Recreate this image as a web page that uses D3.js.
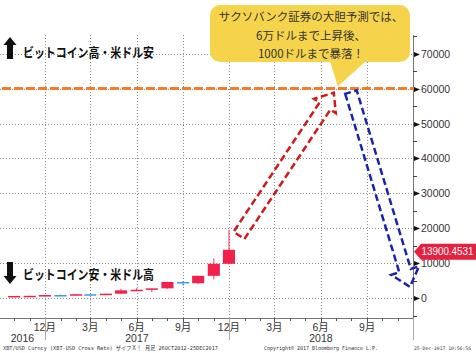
<!DOCTYPE html>
<html>
<head>
<meta charset="utf-8">
<script src="https://cdn.jsdelivr.net/npm/d3@7"></script>
<style>
  body { margin: 0; background: #fff; }
  svg { display: block; }
</style>
</head>
<body>
<div id="chart"></div>
<script>
// monthly candles (XBT/USD), month start
const months = ["2016-10-01","2016-11-01","2016-12-01","2017-01-01","2017-02-01","2017-03-01","2017-04-01",
    "2017-05-01","2017-06-01","2017-07-01","2017-08-01","2017-09-01","2017-10-01","2017-11-01","2017-12-01"];
const opens  = [610, 700, 745, 965, 965, 1190, 1080, 1350, 2300, 2480, 2875, 4700, 4340, 6450, 9900];
const highs  = [720, 750, 980, 1150, 1200, 1290, 1350, 2750, 3000, 2900, 4750, 4980, 6450, 11400, 19600];
const lows   = [600, 690, 745, 760, 920, 900, 1060, 1350, 2150, 1830, 2700, 3650, 4100, 5500, 9700];
const closes = [700, 745, 965, 960, 1190, 1080, 1350, 2300, 2480, 2875, 4700, 4340, 6450, 9900, 13900];

const yTicks = [0, 10000, 20000, 30000, 40000, 50000, 60000, 70000];
const lastPrice = 13900.4531;
const targetLevel = 60000;

// forecast arrows: [date, value] from -> to
const upArrow = [["2017-12-21", 18000], ["2018-06-27", 58800]];
const downArrow = [["2018-07-31", 59000], ["2018-11-25", 3300]];

const calloutLines = ["サクソバンク証券の大胆予測では、", "6万ドルまで上昇後、", "1000ドルまで暴落！"];

class CandleChart {
    constructor(parentElement) {
        this.parentElement = parentElement;
        this.initVis();
    }

    initVis() {
        let vis = this;
        vis.width = 476;
        vis.height = 353;
        vis.plotRight = 413;
        vis.plotTop = 35;
        vis.plotBottom = 318;

        vis.svg = d3.select("#" + vis.parentElement).append("svg")
            .attr("width", vis.width)
            .attr("height", vis.height);

        vis.svg.append("rect").attr("width", vis.width).attr("height", vis.height).attr("fill", "#fff");

        vis.parse = d3.timeParse("%Y-%m-%d");

        vis.x = d3.scaleTime()
            .domain([vis.parse("2016-09-03"), vis.parse("2018-12-01")])
            .range([0, vis.plotRight]);

        vis.y = d3.scaleLinear()
            .domain([-5600, 75300])
            .range([vis.plotBottom, vis.plotTop]);

        vis.data = months.map((m, i) => ({
            date: vis.parse(m), open: opens[i], high: highs[i], low: lows[i], close: closes[i]
        }));

        vis.drawGrid();
        vis.drawAxes();
        vis.drawCandles();
        vis.drawAnnotations();
    }

    drawGrid() {
        let vis = this;
        let quarters = d3.timeMonth.range(vis.x.domain()[0], vis.x.domain()[1])
            .filter(d => d.getMonth() % 3 === 2);
        vis.quarters = quarters;

        vis.svg.append("g").selectAll("line")
            .data(quarters)
            .enter().append("line")
            .attr("x1", d => Math.round(vis.x(d)) + 0.5)
            .attr("x2", d => Math.round(vis.x(d)) + 0.5)
            .attr("y1", vis.plotTop)
            .attr("y2", vis.plotBottom)
            .attr("stroke", "#8a8a8a")
            .attr("stroke-dasharray", "1,2");

        vis.svg.append("g").selectAll("line")
            .data(yTicks)
            .enter().append("line")
            .attr("x1", 0)
            .attr("x2", vis.plotRight)
            .attr("y1", d => Math.round(vis.y(d)) + 0.5)
            .attr("y2", d => Math.round(vis.y(d)) + 0.5)
            .attr("stroke", "#8a8a8a")
            .attr("stroke-dasharray", "1,2");
    }

    drawAxes() {
        let vis = this;
        let axisColor = "#777";

        // right value axis
        vis.svg.append("line")
            .attr("x1", vis.plotRight + 0.5).attr("x2", vis.plotRight + 0.5)
            .attr("y1", vis.plotTop).attr("y2", vis.plotBottom)
            .attr("stroke", axisColor);

        let minor = d3.range(-5000, 75001, 5000).filter(d => d % 10000 !== 0);
        vis.svg.append("g").selectAll("line")
            .data(minor)
            .enter().append("line")
            .attr("x1", vis.plotRight).attr("x2", vis.plotRight + 4)
            .attr("y1", d => Math.round(vis.y(d)) + 0.5)
            .attr("y2", d => Math.round(vis.y(d)) + 0.5)
            .attr("stroke", "#444");

        let major = vis.svg.append("g").selectAll("g")
            .data(yTicks)
            .enter().append("g")
            .attr("transform", d => `translate(${vis.plotRight}, ${Math.round(vis.y(d)) + 0.5})`);

        major.append("path")
            .attr("d", "M1,-2.5 L7,0 L1,2.5 Z")
            .attr("fill", "#111");

        major.append("text")
            .attr("x", 8)
            .attr("y", 3.6)
            .attr("font-family", "Liberation Sans, Arial, sans-serif")
            .attr("font-size", "10.5px")
            .attr("fill", "#333")
            .text(d => d);

        // bottom time axis
        vis.svg.append("line")
            .attr("x1", 0).attr("x2", vis.plotRight + 1)
            .attr("y1", vis.plotBottom + 0.5).attr("y2", vis.plotBottom + 0.5)
            .attr("stroke", axisColor);

        let allMonths = d3.timeMonth.range(vis.x.domain()[0], vis.x.domain()[1]);
        vis.svg.append("g").selectAll("line")
            .data(allMonths)
            .enter().append("line")
            .attr("x1", d => Math.round(vis.x(d)) + 0.5)
            .attr("x2", d => Math.round(vis.x(d)) + 0.5)
            .attr("y1", vis.plotBottom)
            .attr("y2", d => vis.plotBottom + (d.getMonth() % 3 === 2 ? 4 : 3))
            .attr("stroke", "#555");

        vis.svg.append("g").selectAll("text")
            .data(vis.quarters)
            .enter().append("text")
            .attr("x", d => vis.x(d))
            .attr("y", vis.plotBottom + 13)
            .attr("text-anchor", "middle")
            .attr("font-family", "Liberation Sans, Noto Sans CJK JP, sans-serif")
            .attr("font-size", "10.5px")
            .attr("fill", "#333")
            .text(d => (d.getMonth() + 1) + "月");

        // year separators and labels
        let yearStarts = [vis.x.domain()[0], vis.parse("2016-12-01"), vis.parse("2017-12-01"), vis.x.domain()[1]];
        vis.svg.append("g").selectAll("line")
            .data(yearStarts.slice(1))
            .enter().append("line")
            .attr("x1", d => Math.round(vis.x(d)) + 0.5)
            .attr("x2", d => Math.round(vis.x(d)) + 0.5)
            .attr("y1", vis.plotBottom)
            .attr("y2", vis.plotBottom + 22)
            .attr("stroke", "#aaa");

        let years = ["2016", "2017", "2018"];
        vis.svg.append("g").selectAll("text")
            .data(years)
            .enter().append("text")
            .attr("x", (d, i) => (vis.x(yearStarts[i]) + vis.x(yearStarts[i + 1])) / 2)
            .attr("y", vis.plotBottom + 24)
            .attr("text-anchor", "middle")
            .attr("font-family", "Liberation Sans, Arial, sans-serif")
            .attr("font-size", "10.5px")
            .attr("fill", "#333")
            .text(d => d);
    }

    drawCandles() {
        let vis = this;
        let up = "#f2204a", down = "#3d9ae8";
        let halfW = d => (vis.x(d3.timeDay.offset(d.date, 12)) - vis.x(d3.timeDay.offset(d.date, -12))) / 2;

        let candles = vis.svg.append("g").selectAll("g")
            .data(vis.data)
            .enter().append("g")
            .attr("class", "candle");

        candles.append("line")
            .attr("x1", d => vis.x(d.date))
            .attr("x2", d => vis.x(d.date))
            .attr("y1", d => vis.y(d.high))
            .attr("y2", d => vis.y(d.low))
            .attr("stroke", d => d.close >= d.open ? up : down)
            .attr("stroke-opacity", 0.7)
            .attr("stroke-width", 1.3);

        candles.append("rect")
            .attr("x", d => vis.x(d.date) - halfW(d))
            .attr("width", d => 2 * halfW(d))
            .attr("y", d => vis.y(Math.max(d.open, d.close)))
            .attr("height", d => Math.max(1.5, Math.abs(vis.y(d.open) - vis.y(d.close))))
            .attr("fill", d => d.close >= d.open ? up : down);
    }

    blockArrow(s, t, w, hw, hl) {
        let dx = t[0] - s[0], dy = t[1] - s[1];
        let len = Math.hypot(dx, dy);
        let ux = dx / len, uy = dy / len;
        let nx = -uy, ny = ux;
        let bx = t[0] - ux * hl, by = t[1] - uy * hl;
        let pts = [
            [s[0] + nx * w, s[1] + ny * w],
            [bx + nx * w, by + ny * w],
            [bx + nx * hw, by + ny * hw],
            t,
            [bx - nx * hw, by - ny * hw],
            [bx - nx * w, by - ny * w],
            [s[0] - nx * w, s[1] - ny * w]
        ];
        return "M" + pts.map(p => p[0].toFixed(1) + "," + p[1].toFixed(1)).join("L") + "Z";
    }

    drawAnnotations() {
        let vis = this;
        let jp = "Noto Sans CJK JP, sans-serif";

        // 60000 target line
        vis.svg.append("line")
            .attr("x1", 2).attr("x2", vis.plotRight + 1)
            .attr("y1", vis.y(targetLevel)).attr("y2", vis.y(targetLevel))
            .attr("stroke", "#f07d2c")
            .attr("stroke-width", 3)
            .attr("stroke-dasharray", "9,3");

        // forecast arrows
        let toPx = p => [vis.x(vis.parse(p[0])), vis.y(p[1])];
        vis.svg.append("path")
            .attr("d", vis.blockArrow(toPx(upArrow[0]), toPx(upArrow[1]), 6.5, 13, 16))
            .attr("fill", "none")
            .attr("stroke", "#cc1c1c")
            .attr("stroke-width", 2.5)
            .attr("stroke-dasharray", "7,3.5");

        vis.svg.append("path")
            .attr("d", vis.blockArrow(toPx(downArrow[0]), toPx(downArrow[1]), 6, 14.5, 17))
            .attr("fill", "none")
            .attr("stroke", "#1a24a8")
            .attr("stroke-width", 2.5)
            .attr("stroke-dasharray", "7,3.5");

        // last price tag
        let ty = vis.y(lastPrice) + 2;
        let tag = vis.svg.append("g").attr("transform", `translate(${vis.plotRight + 1}, ${ty})`);
        tag.append("path")
            .attr("d", "M0,0 L7,-8 L62,-8 L62,8 L7,8 Z")
            .attr("fill", "#e8203f");
        tag.append("text")
            .attr("x", 7.5)
            .attr("y", 3.6)
            .attr("font-family", "Liberation Sans, Arial, sans-serif")
            .attr("font-size", "10px")
            .attr("textLength", 52)
            .attr("lengthAdjust", "spacingAndGlyphs")
            .attr("fill", "#fff")
            .text(lastPrice.toFixed(4));

        // callout bubble
        let bubble = vis.svg.append("g");
        bubble.append("rect")
            .attr("x", 210).attr("y", 5)
            .attr("width", 200).attr("height", 57)
            .attr("rx", 10)
            .attr("fill", "#f5d44c");
        bubble.append("path")
            .attr("d", `M330,61 L${vis.x(vis.parse("2018-07-05"))},${vis.y(targetLevel) - 2} L366,61 Z`)
            .attr("fill", "#f5d44c");
        bubble.selectAll("text")
            .data(calloutLines)
            .enter().append("text")
            .attr("x", 311)
            .attr("y", (d, i) => 21 + i * 18.5)
            .attr("text-anchor", "middle")
            .attr("font-family", jp)
            .attr("font-size", "11.5px")
            .attr("fill", "#333")
            .text(d => d);

        // direction labels with black arrows
        let labels = [
            {text: "ビットコイン高・米ドル安", y: 57, dir: -1, ay: 48},
            {text: "ビットコイン安・米ドル高", y: 279, dir: 1, ay: 273}
        ];
        labels.forEach(l => {
            let tip = l.ay + l.dir * 11;
            let base = l.ay + l.dir * 3;
            let tail = l.ay - l.dir * 11;
            vis.svg.append("path")
                .attr("d", `M10,${tip} L16.5,${base} L13,${base} L13,${tail} L7,${tail} L7,${base} L3.5,${base} Z`)
                .attr("fill", "#111");
            vis.svg.append("text")
                .attr("x", 23)
                .attr("y", l.y)
                .attr("font-family", jp)
                .attr("font-size", "13px")
                .attr("font-weight", "bold")
                .attr("textLength", 131)
                .attr("lengthAdjust", "spacingAndGlyphs")
                .attr("fill", "#111")
                .text(l.text);
        });

        // source footer
        let foot = [
            {x: 3, len: 215, size: 5.5, text: "XBT/USD Curncy (XBT-USD Cross Rate) ザイフＸ！  月足 26OCT2012-25DEC2017"},
            {x: 264, len: 114, size: 5.5, text: "Copyright© 2017 Bloomberg Finance L.P."},
            {x: 414, len: 57, size: 4.8, text: "25-Dec-2017 10:56:56"}
        ];
        vis.svg.append("g").selectAll("text")
            .data(foot)
            .enter().append("text")
            .attr("x", d => d.x)
            .attr("y", 350)
            .attr("font-family", "DejaVu Sans Mono, Noto Sans CJK JP, monospace")
            .attr("font-size", d => d.size + "px")
            .attr("textLength", d => d.len)
            .attr("lengthAdjust", "spacingAndGlyphs")
            .attr("fill", "#333")
            .text(d => d.text);
    }
}

new CandleChart("chart");
</script>
</body>
</html>
